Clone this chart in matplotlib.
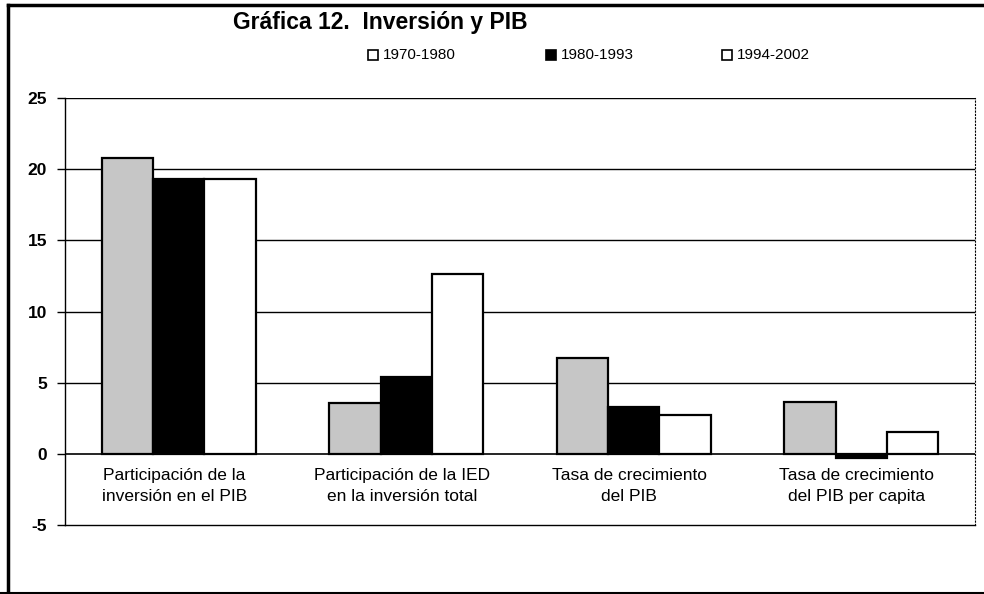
import numpy as np
import matplotlib.pyplot as plt
from matplotlib.lines import Line2D

# ============================================
# Data
# ============================================
categories = [
    "Participación de la\ninversión en el PIB",
    "Participación de la IED\nen la inversión total",
    "Tasa de crecimiento\ndel PIB",
    "Tasa de crecimiento\ndel PIB per capita",
]
periods = ["1970-1980", "1980-1993", "1994-2002"]

v_1970_1980 = [20.8, 3.6, 6.7, 3.65]
v_1980_1993 = [19.3, 5.4, 3.3, -0.3]
v_1994_2002 = [19.3, 12.6, 2.7, 1.5]

series = [v_1970_1980, v_1980_1993, v_1994_2002]
colors = ["#c6c6c6", "#000000", "#ffffff"]
legend_colors = ["#ffffff", "#000000", "#ffffff"]

plt.rcParams["font.family"] = ["Liberation Sans", "DejaVu Sans"]
plt.rcParams["axes.unicode_minus"] = False

# ============================================
# Plot
# ============================================
fig = plt.figure(figsize=(9.84, 5.94), dpi=100)
ax = fig.add_axes([65 / 984, 1 - 525 / 594, 910 / 984, 427 / 594])

x = np.arange(len(categories))
width = 0.225

for i, vals in enumerate(series):
    ax.bar(
        x + (i - 1) * width,
        vals,
        width=width,
        color=colors[i],
        edgecolor="black",
        linewidth=1.6,
        zorder=3,
    )

ax.set_xlim(-0.5, len(categories) - 0.5)
ax.set_ylim(-5, 25)
ax.set_yticks(range(-5, 26, 5))
ax.tick_params(axis="y", labelsize=12.5, length=6, width=1, pad=7)
for lab in ax.get_yticklabels():
    lab.set_fontweight("bold")
ax.set_xticks([])

for y in range(5, 26, 5):
    ax.axhline(y, color="black", linewidth=1, zorder=1)
ax.axhline(0, color="black", linewidth=1.2, zorder=4)

ax.spines["top"].set_visible(False)
ax.spines["right"].set_linestyle((0, (1, 2)))
ax.spines["right"].set_linewidth(0.8)
ax.spines["left"].set_linewidth(1)
ax.spines["bottom"].set_linewidth(1)

for xi, cat in zip(x, categories):
    ax.text(xi - 0.02, -1.0, cat, ha="center", va="top", fontsize=12.5,
            linespacing=1.5)

# Title
fig.text(380 / 984, 1 - 22 / 594, "Gráfica 12.  Inversión y PIB",
         ha="center", va="center", fontsize=16.5, fontweight="bold")

# Legend
leg_x = [368, 546, 722]
for lx, lab, c in zip(leg_x, periods, legend_colors):
    fig.text((lx + 15) / 984, 1 - 55 / 594, lab, ha="left", va="center",
             fontsize=11)
    fig.patches.append(plt.Rectangle(
        (lx / 984, 1 - 60 / 594), 10 / 984, 10 / 594,
        transform=fig.transFigure, facecolor=c,
        edgecolor="black", linewidth=1.2))

# Outer frame
fig.add_artist(Line2D([8 / 984, 1], [1 - 5 / 594] * 2, color="black",
                      linewidth=2.5, transform=fig.transFigure))
fig.add_artist(Line2D([8 / 984] * 2, [1 - 5 / 594, 0], color="black",
                      linewidth=2.5, transform=fig.transFigure))
fig.add_artist(Line2D([0, 1], [1 / 594] * 2, color="black",
                      linewidth=1.5, transform=fig.transFigure))

fig.savefig("out.png", dpi=100)
